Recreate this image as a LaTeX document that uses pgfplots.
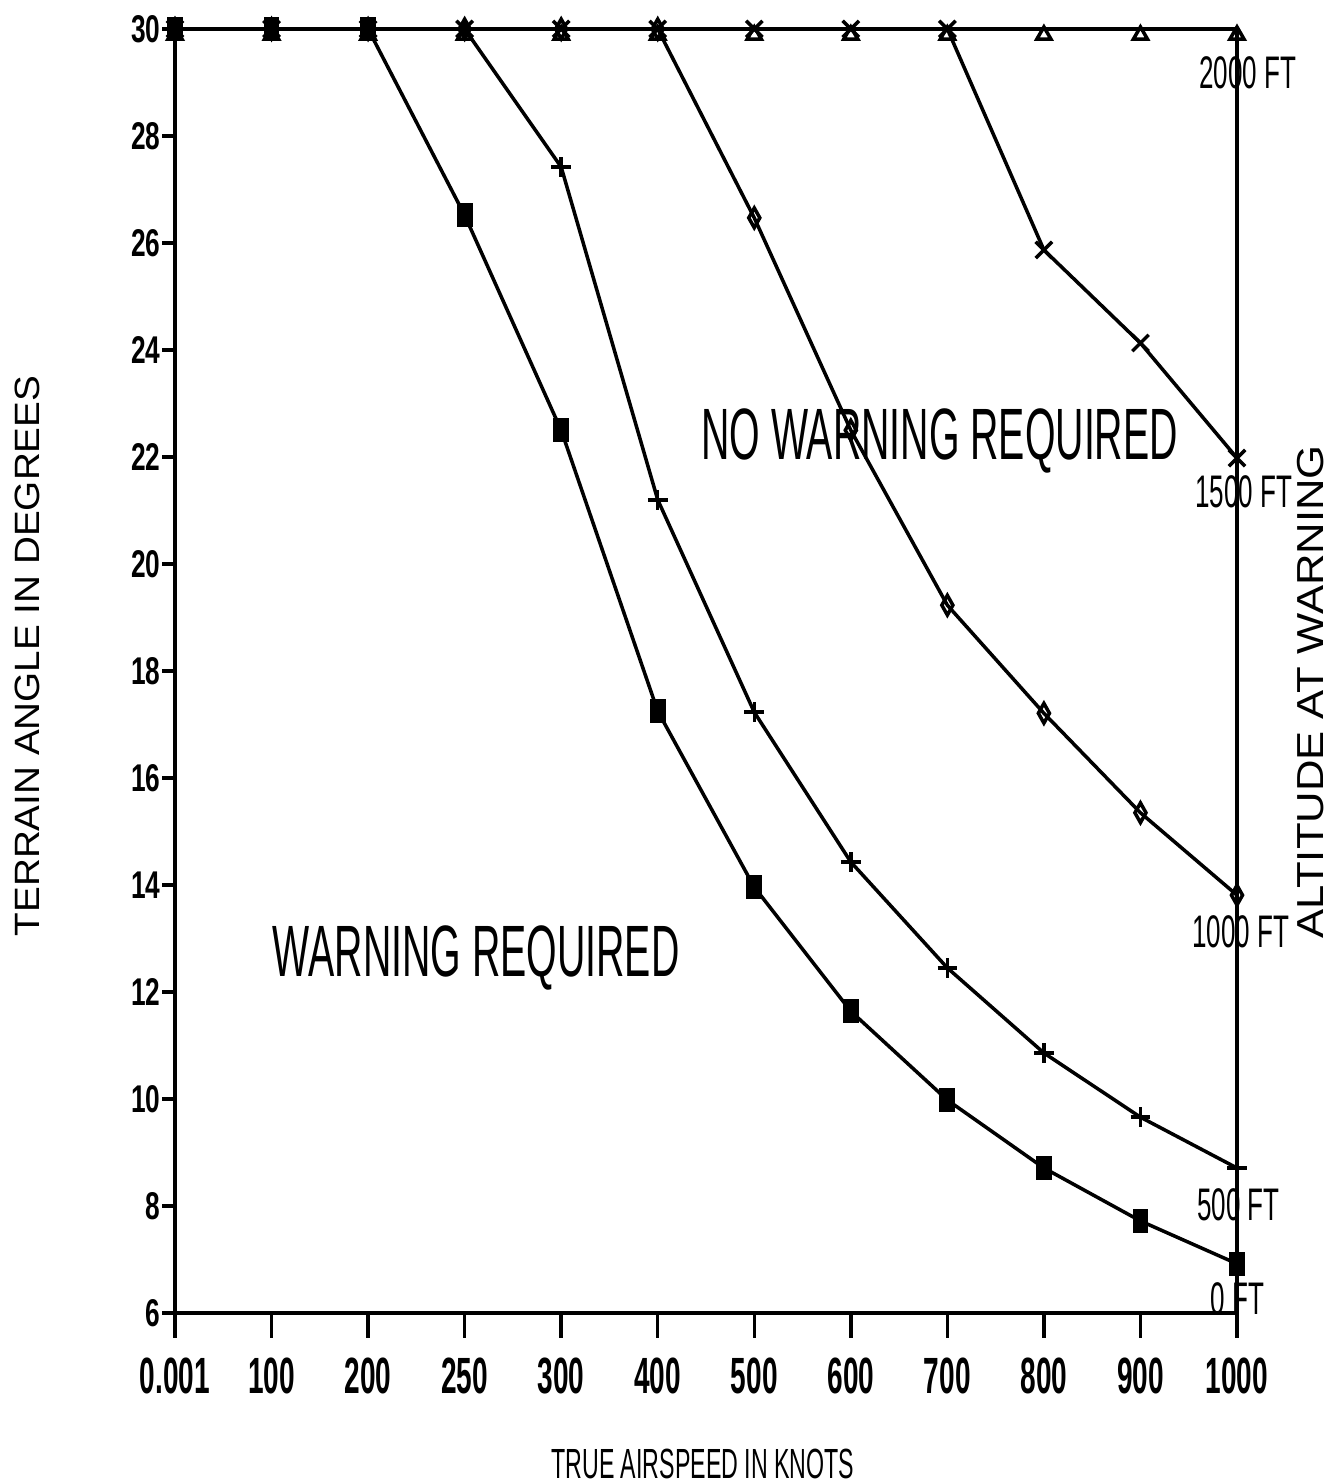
\documentclass[border=0pt]{standalone}
\usepackage{fontspec}
\setmainfont{Liberation Sans}
\newfontfamily\ytickfont{Liberation Sans}[FakeStretch=0.68]
\newfontfamily\xtickfont{Liberation Sans}[FakeStretch=0.55]
\newfontfamily\annofont{Liberation Sans}[FakeStretch=0.54]
\newfontfamily\rlabfont{Liberation Sans}[FakeStretch=0.57]
\newfontfamily\widefont{Liberation Sans}[FakeStretch=1.1]
\newfontfamily\widerfont{Liberation Sans}[FakeStretch=1.16]
\usepackage{pgfplots}
\pgfplotsset{compat=1.18}

\pgfplotstableread{
x y
0 30
1 30
2 30
3 26.52
4 22.50
5 17.25
6 13.96
7 11.64
8 9.98
9 8.71
10 7.72
11 6.92
}\ftzero
\pgfplotstableread{
x y
0 30
1 30
2 30
3 30
4 27.42
5 21.20
6 17.23
7 14.43
8 12.45
9 10.86
10 9.66
11 8.71
}\ftfive
\pgfplotstableread{
x y
0 30
1 30
2 30
3 30
4 30
5 30
6 26.47
7 22.50
8 19.23
9 17.21
10 15.35
11 13.81
}\ftten
\pgfplotstableread{
x y
0 30
1 30
2 30
3 30
4 30
5 30
6 30
7 30
8 30
9 25.87
10 24.13
11 21.98
}\ftfifteen
\pgfplotstableread{
x y
0 30
1 30
2 30
3 30
4 30
5 30
6 30
7 30
8 30
9 30
10 30
11 30
}\fttwenty

\begin{document}
\begin{tikzpicture}
\begin{axis}[
  scale only axis,
  width=106.2mm, height=128.4mm,
  xmin=0, xmax=11, ymin=6, ymax=30,
  xtick={0,1,...,11},
  xticklabels={0.001,100,200,250,300,400,500,600,700,800,900,1000},
  ytick={6,8,...,30},
  xtick pos=left, ytick pos=left,
  tick align=outside,
  major tick length=1.3mm,
  xtick style={/pgfplots/major tick length=2.5mm},
  axis line style={line width=1pt},
  tick style={line width=1pt, black},
  /pgf/number format/assume math mode=true,
  yticklabel style={font=\ytickfont\bfseries\fontsize{11}{13}\selectfont, xshift=1.1mm},
  xticklabel style={font=\xtickfont\bfseries\fontsize{14.5}{16}\selectfont, yshift=-2mm},
  clip=false,
]
\addplot[black, line width=1pt, mark=triangle, mark size=2.3pt, mark options={solid, yshift=-0.6mm}] table {\fttwenty};
\addplot[black, line width=1pt, mark=x, mark size=3.3pt, mark options={solid}] table {\ftfifteen};
\addplot[black, line width=1pt, mark=diamond, mark size=2.8pt, mark options={solid, xscale=0.75}] table {\ftten};
\addplot[black, line width=1pt, mark=+, mark size=2.8pt, mark options={solid}] table {\ftfive};
\addplot[black, line width=1pt, mark=square*, mark size=2.9pt, mark options={solid, xscale=0.6}] table {\ftzero};

\node[font=\annofont\fontsize{20.7}{24}\selectfont, inner sep=0] at (axis cs:7.92,22.30) {NO WARNING REQUIRED};
\node[font=\annofont\fontsize{20.7}{24}\selectfont, inner sep=0] at (axis cs:3.12,12.64) {WARNING REQUIRED};

\node[font=\rlabfont\fontsize{13}{15}\selectfont, inner sep=0, anchor=west] at (axis cs:10.60,29.18) {2000 FT};
\node[font=\rlabfont\fontsize{13}{15}\selectfont, inner sep=0, anchor=west] at (axis cs:10.56,21.35) {1500 FT};
\node[font=\rlabfont\fontsize{13}{15}\selectfont, inner sep=0, anchor=west] at (axis cs:10.53,13.12) {1000 FT};
\node[font=\rlabfont\fontsize{13}{15}\selectfont, inner sep=0, anchor=west] at (axis cs:10.58,8.02) {500 FT};
\node[font=\rlabfont\fontsize{13}{15}\selectfont, inner sep=0, anchor=west] at (axis cs:10.72,6.26) {0 FT};

\node[font=\widefont\fontsize{10}{12}\selectfont, inner sep=0, rotate=90] at (axis description cs:-0.1394,0.5117) {TERRAIN ANGLE IN DEGREES};
\node[font=\widerfont\fontsize{10.7}{12}\selectfont, inner sep=0, rotate=90] at (axis description cs:1.0697,0.4836) {ALTITUDE AT WARNING};
\node[font=\xtickfont\fontsize{12}{14}\selectfont, inner sep=0] at (axis description cs:0.497,-0.1176) {TRUE AIRSPEED IN KNOTS};

\coordinate (bbsw) at (axis description cs:-0.1648,-0.1332);
\coordinate (bbne) at (axis description cs:1.0866,1.0226);
\end{axis}
\pgfresetboundingbox
\path (bbsw) rectangle (bbne);
\end{tikzpicture}
\end{document}
